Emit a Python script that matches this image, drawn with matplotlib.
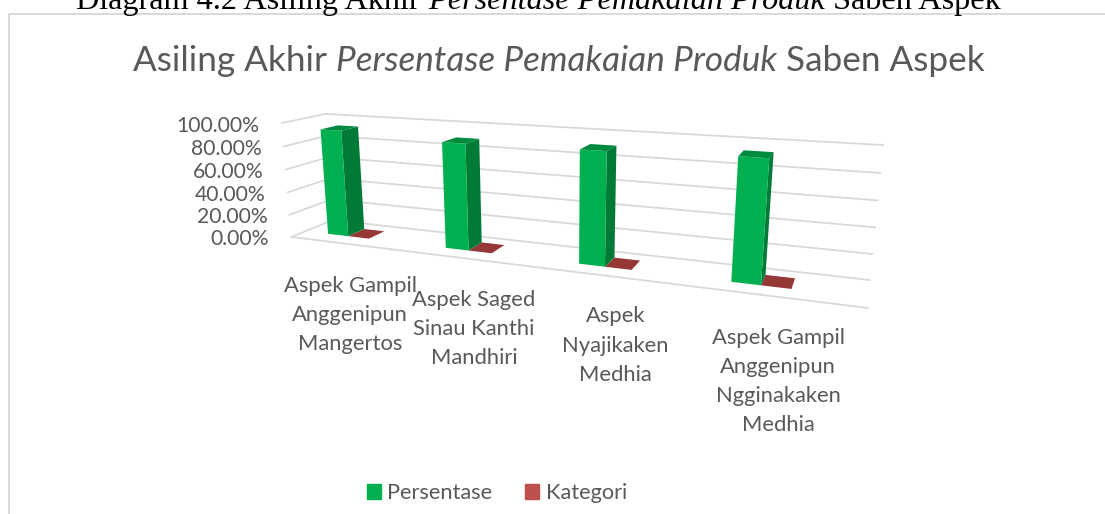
import matplotlib
matplotlib.use("Agg")
import matplotlib.pyplot as plt
from matplotlib.patches import Polygon, Patch
import numpy as np

caption_parts = [("Diagram 4.2 Asiling Akhir ", "normal"), ("Persentase Pemakaian Produk", "italic"), (" Saben Aspek", "normal")]
title_parts = [("Asiling Akhir ", "normal"), ("Persentase Pemakaian Produk", "italic"), (" Saben Aspek", "normal")]
categories = ["Aspek Gampil\nAnggenipun\nMangertos",
              "Aspek Saged\nSinau Kanthi\nMandhiri",
              "Aspek\nNyajikaken\nMedhia",
              "Aspek Gampil\nAnggenipun\nNgginakaken\nMedhia"]
persentase = [0.93, 0.89, 0.905, 0.93]
kategori = [0, 0, 0, 0]
value_ticks = [0, 0.2, 0.4, 0.6, 0.8, 1.0]
series_names = ["Persentase", "Kategori"]

GREY = "#595959"
GRID = "#d9d9d9"
FONT = "Lato"

# where the corners of the 3d box land in the picture: (cat, value, depth) -> pixel
box_corners = [((0, 1, 0), (280, 123)), ((0, 0, 0), (293, 237)), ((4, 0, 0), (868, 308)),
               ((0, 1, 1), (327, 114)), ((0, 0, 1), (331, 220)), ((4, 0, 1), (870, 280)),
               ((4, 1, 1), (883, 145))]


def fit_projection(corners):
    rows = []
    for (x, y, z), (u, v) in corners:
        rows.append([x, y, z, 1, 0, 0, 0, 0, -u * x, -u * y, -u * z, -u])
        rows.append([0, 0, 0, 0, x, y, z, 1, -v * x, -v * y, -v * z, -v])
    return np.linalg.svd(np.array(rows, dtype=float))[2][-1].reshape(3, 4)


P = fit_projection(box_corners)


def project(x, y, z):
    u, v, w = P @ np.array([x, y, z, 1.0])
    return u / w, v / w


def add_face(ax, pts, color):
    ax.add_patch(Polygon([project(*p) for p in pts], closed=True, fc=color, ec="none", zorder=3))


def draw_bar(ax, x0, x1, value, d0, d1, front, side, top):
    add_face(ax, [(x1, 0, d0), (x1, 0, d1), (x1, value, d1), (x1, value, d0)], side)
    add_face(ax, [(x0, 0, d0), (x1, 0, d0), (x1, value, d0), (x0, value, d0)], front)
    add_face(ax, [(x0, value, d0), (x1, value, d0), (x1, value, d1), (x0, value, d1)], top)


plt.rcParams["font.family"] = [FONT, "DejaVu Sans"]
fig = plt.figure(figsize=(11.05, 5.14), dpi=100)
ax = fig.add_axes([0, 0, 1, 1])
ax.set_xlim(0, 1105)
ax.set_ylim(514, 0)
ax.axis("off")

# chart frame
ax.plot([8.5, 8.5, 1105], [514, 14, 14], color=GRID, lw=1.4, zorder=1)

# walls and floor
for val in value_ticks:
    pts = [project(0, val, 0), project(0, val, 1), project(4, val, 1)]
    ax.plot(*zip(*pts), color=GRID, lw=1.3, zorder=2)
    u, v = project(0, val, 0)
    ax.text(u - 22, v + 2.5, f"{val * 100:.2f}%", ha="right", va="center", color=GREY, fontsize=15.2)
ax.plot(*zip(project(0, 0, 0), project(4, 0, 0)), color=GRID, lw=1.3, zorder=2)

# bars, green next to red in each category
bar_w = 0.18
for i in range(len(categories)):
    c = i + 0.385
    draw_bar(ax, c, c + bar_w, kategori[i], 0.33, 0.74, "#953735", "#953735", "#953735")
    draw_bar(ax, c - bar_w, c, persentase[i], 0.33, 0.74, "#00b050", "#007a37", "#008a3e")

# category labels
label_x = [350, 474, 615.5, 778]
label_y = [285, 299, 316, 337]
for name, lx, ly in zip(categories, label_x, label_y):
    ax.text(lx, ly - 9.5, name, ha="center", va="top", color=GREY, fontsize=15.8, linespacing=1.58)


def chain_text(parts, x, y, **kw):
    r = fig.canvas.get_renderer()
    for txt, style in parts:
        t = ax.text(x, y, txt, style=style, va="baseline", ha="left", **kw)
        x = ax.transData.inverted().transform(t.get_window_extent(r))[1, 0]
    return x


chain_text(title_parts, 133, 71, fontsize=25.3, color=GREY)
chain_text(caption_parts, 76, 9, fontsize=23.2, color="black", family="Liberation Serif")

handles = [Patch(color="#00b050"), Patch(color="#c0504d")]
ax.legend(handles, series_names, ncol=2, frameon=False, loc="center", bbox_to_anchor=(497, 493),
          bbox_transform=ax.transData, fontsize=15.7, labelcolor=GREY, handlelength=0.64, handleheight=0.64,
          handletextpad=0.3, columnspacing=1.5)

fig.savefig("out.png", dpi=100)
